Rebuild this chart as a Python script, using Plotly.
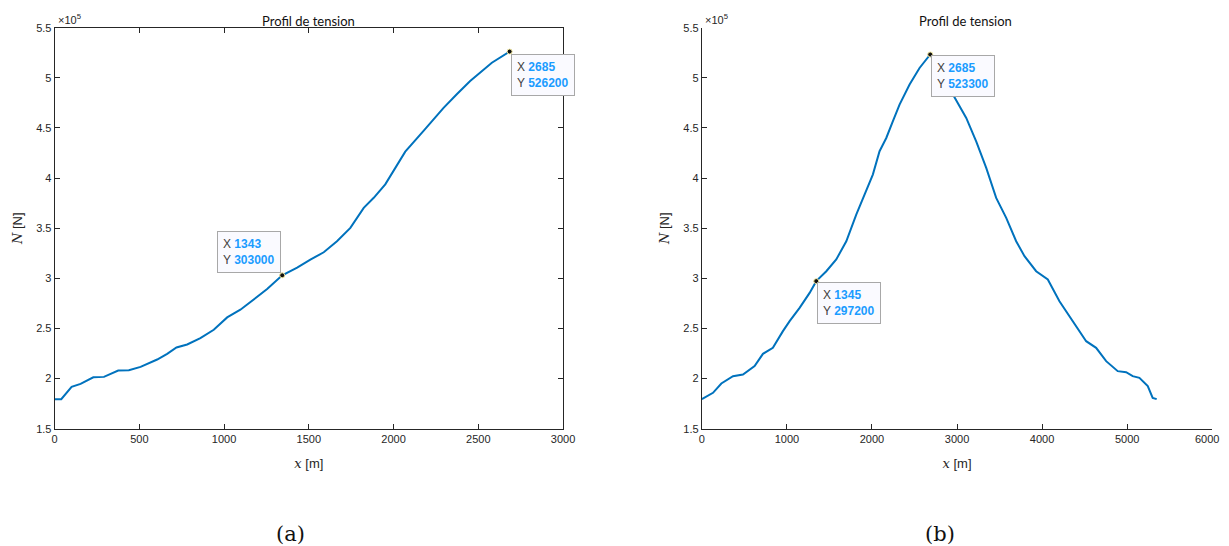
import plotly.graph_objects as go

# ---------------- data ----------------
# (a) tension profile
xa = [0, 39, 100, 153, 228, 291, 375, 438, 507, 556, 605, 664, 719, 782, 860, 939, 1018,
      1096, 1175, 1254, 1343, 1431, 1509, 1588, 1666, 1745, 1824, 1883, 1951, 2000, 2069,
      2177, 2295, 2373, 2452, 2580, 2685]
ya = [179500, 179500, 191700, 194700, 201300, 201700, 208000, 208300, 211700, 215700, 219000,
      224700, 231000, 234000, 240300, 248700, 261000, 268700, 279000, 289300, 303000, 310700,
      318700, 326000, 337000, 350300, 370300, 380300, 393700, 407800, 426400, 447000, 470000,
      483600, 496900, 515100, 526200]

# (b) tension profile
xb = [0, 131, 229, 366, 483, 620, 718, 835, 953, 1032, 1149, 1267, 1345, 1463, 1580, 1698,
      1815, 1933, 2010, 2089, 2168, 2246, 2324, 2442, 2559, 2685, 2990, 3108, 3225, 3343,
      3460, 3578, 3695, 3793, 3930, 4067, 4204, 4361, 4518, 4635, 4753, 4889, 4988, 5065,
      5144, 5242, 5300, 5347]
yb = [179500, 185800, 195100, 202400, 204100, 212400, 224700, 230700, 247300, 257300, 270500,
      285500, 297200, 307100, 318800, 337000, 363600, 386900, 403500, 426800, 440000, 456700,
      473300, 493300, 509800, 523300, 478300, 460000, 436700, 410100, 380200, 360300, 337000,
      322100, 307100, 298800, 277200, 257300, 237300, 230700, 217400, 207400, 206400, 202400,
      200700, 192500, 180800, 179500]

# data tips
tips_a_x = [2685, 1343]
tips_a_y = [526200, 303000]
tips_b_x = [2685, 1345]
tips_b_y = [523300, 297200]

ytick_vals = [150000, 200000, 250000, 300000, 350000, 400000, 450000, 500000, 550000]
ytick_text = ["1.5", "2", "2.5", "3", "3.5", "4", "4.5", "5", "5.5"]
xtick_a = [0, 500, 1000, 1500, 2000, 2500, 3000]
xtick_b = [0, 1000, 2000, 3000, 4000, 5000, 6000]
xtick_b_text = ["0", "1000", "2000", "3000", "4000", "5000", ""]  # last label drawn below

# ---------------- figure ----------------
W, H = 1229, 546
# measured relation between figure pixels and photographed pixels
SX, AXO = 0.989, 10.3
SY, AYO = 0.978, 13.3
LINE = "#0072BD"
AX = "#262626"
TICKFONT = dict(family="Liberation Sans, Arial, sans-serif", size=11, color=AX)


def px(v):
    return ((v - AXO) / SX) / W


def py(v):
    return 1 - ((v - AYO) / SY) / H


fig = go.Figure()
fig.add_trace(go.Scatter(x=xa, y=ya, mode="lines", line=dict(color=LINE, width=2),
                         xaxis="x", yaxis="y", hoverinfo="skip", showlegend=False))
fig.add_trace(go.Scatter(x=xb, y=yb, mode="lines", line=dict(color=LINE, width=2),
                         xaxis="x2", yaxis="y2", hoverinfo="skip", showlegend=False))
fig.add_trace(go.Scatter(x=tips_a_x, y=tips_a_y, mode="markers",
                         marker=dict(color="#111111", size=5, line=dict(color="#f2e8a0", width=1)),
                         xaxis="x", yaxis="y", hoverinfo="skip", showlegend=False))
fig.add_trace(go.Scatter(x=tips_b_x, y=tips_b_y, mode="markers",
                         marker=dict(color="#111111", size=5, line=dict(color="#f2e8a0", width=1)),
                         xaxis="x2", yaxis="y2", hoverinfo="skip", showlegend=False))

dom_a = [px(54), px(563)]
dom_b = [px(702), px(1213)]
dom_y = [py(428), py(27)]

common_x = dict(ticks="inside", ticklen=5, tickcolor=AX, tickfont=TICKFONT, showgrid=False,
                zeroline=False, showline=True, linecolor=AX, linewidth=1)
common_y = dict(ticks="inside", ticklen=5, tickcolor=AX, tickfont=TICKFONT, showgrid=False,
                zeroline=False, showline=True, linecolor=AX, linewidth=1,
                range=[150000, 550000], tickvals=ytick_vals, ticktext=ytick_text)

xlabel = ("<span style='font-family:DejaVu Serif'><i>x</i></span> [m]")
ylabel = ("<span style='font-family:DejaVu Serif'><i>N</i></span> [N]")
labfont = dict(family="Liberation Sans, Arial, sans-serif", size=13, color=AX)

fig.update_layout(
    width=W, height=H, margin=dict(l=0, r=0, t=0, b=0),
    paper_bgcolor="white", plot_bgcolor="white",
    xaxis=dict(domain=dom_a, range=[0, 3000], tickvals=xtick_a, mirror="ticks",
               title=dict(text=xlabel, font=labfont, standoff=14), anchor="y", **common_x),
    yaxis=dict(domain=dom_y, mirror="ticks", anchor="x",
               title=dict(text=ylabel, font=labfont, standoff=10), **common_y),
    xaxis2=dict(domain=dom_b, range=[0, 6000], tickvals=xtick_b, ticktext=xtick_b_text,
                anchor="y2", title=dict(text=xlabel, font=labfont, standoff=14), **common_x),
    yaxis2=dict(domain=dom_y, anchor="x2",
                title=dict(text=ylabel, font=labfont, standoff=10), **common_y),
)

annotations = []
TITLEFONT = dict(family="Lato, Open Sans, sans-serif", size=13, color="#111111")
for xc in [308, 966]:
    annotations.append(dict(text="Profil de tension", x=px(xc), y=1.0, xref="paper",
                            yref="paper", showarrow=False, font=TITLEFONT,
                            xanchor="center", yanchor="top", yshift=3))
for xl in [54, 702]:
    annotations.append(dict(text="\u00d710<sup>5</sup>", x=px(xl + 1), y=py(18),
                            xref="paper", yref="paper", showarrow=False,
                            font=dict(family="Liberation Sans, Arial, sans-serif", size=11, color=AX),
                            xanchor="left", yanchor="middle"))
for txt, xc in [("(a)", 290), ("(b)", 940)]:
    annotations.append(dict(text=txt, x=px(xc), y=py(533), xref="paper", yref="paper",
                            showarrow=False,
                            font=dict(family="DejaVu Serif, Liberation Serif, serif", size=21,
                                      color="#111111"),
                            xanchor="center", yanchor="middle"))
# last x tick label of (b), kept inside the page
annotations.append(dict(text=str(xtick_b[-1]), x=xtick_b[-1], y=150000, xref="x2", yref="y2",
                        showarrow=False, font=TICKFONT, xanchor="right", yanchor="top",
                        xshift=9, yshift=-2))


def tip(xv, yv, xr, yr, xanchor, yanchor, xs, ys):
    txt = ("<span style='color:#404040'>X</span> <b><span style='color:#1a9cff'>%d</span></b><br>"
           "<span style='color:#404040'>Y</span> <b><span style='color:#1a9cff'>%d</span></b>"
           % (xv, yv))
    return dict(text=txt, x=xv, y=yv, xref=xr, yref=yr, showarrow=False, align="left",
                xanchor=xanchor, yanchor=yanchor, xshift=xs, yshift=ys,
                bgcolor="#fafaff", bordercolor="#a8a8a8", borderwidth=1, borderpad=5,
                font=dict(family="Liberation Sans, Arial, sans-serif", size=12))


annotations.append(tip(tips_a_x[0], tips_a_y[0], "x", "y", "left", "top", 1, -2))
annotations.append(tip(tips_a_x[1], tips_a_y[1], "x", "y", "right", "bottom", -1, 2))
annotations.append(tip(tips_b_x[0], tips_b_y[0], "x2", "y2", "left", "top", 1, -1))
annotations.append(tip(tips_b_x[1], tips_b_y[1], "x2", "y2", "left", "top", 1, -1))
fig.update_layout(annotations=annotations)

fig.write_html("out.html")
